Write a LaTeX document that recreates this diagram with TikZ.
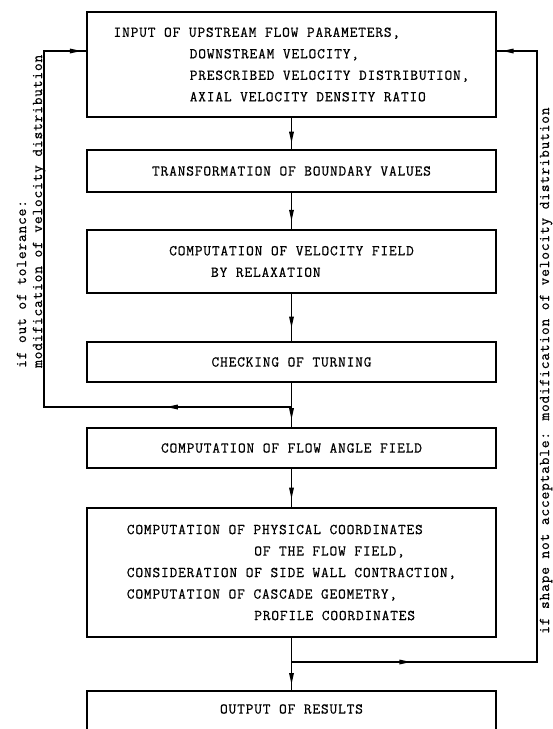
\documentclass[tikz,border=0pt]{standalone}
\usepackage{fontspec}
\newfontfamily\scan[LetterSpace=5.5,FakeBold=0.6]{Latin Modern Mono}
\usetikzlibrary{decorations.markings}

\tikzset{
  box/.style={draw, line width=1.5pt, minimum width=409pt, align=left, inner sep=0pt,
    font=\scan\fontsize{15}{21.5}\selectfont},
  txt/.style={inner sep=0pt, font=\scan\fontsize{15}{21.5}\selectfont},
  wire/.style={line width=1.5pt},
  tipat/.style={postaction={decorate}, decoration={markings,
    mark=at position #1 with {\fill (-10pt,-2.5pt) -- (1pt,0pt) -- (-10pt,2.5pt) -- cycle;}}},
  side/.style={rotate=90, anchor=base west, inner sep=0pt,
    font=\scan\fontsize{15}{17}\selectfont},
}

\begin{document}
\begin{tikzpicture}[x=1pt,y=1pt]
\useasboundingbox (0,0) rectangle (553,-729);
\clip (0,0) rectangle (553,-729);

% process boxes
\node[box, minimum height=105pt] (b1) at (291.5,-64.5)
  {INPUT OF UPSTREAM FLOW PARAMETERS,\\
   \phantom{INPUTxOFx}DOWNSTREAM VELOCITY,\\
   \phantom{INPUTxOFx}PRESCRIBED VELOCITY DISTRIBUTION,\\
   \phantom{INPUTxOFx}AXIAL VELOCITY DENSITY RATIO};
\node[box, minimum height=42pt] (b2) at (291.5,-171)
  {TRANSFORMATION OF BOUNDARY VALUES};
\node[box, minimum height=63pt] (b3) at (291.5,-261.5)
  {COMPUTATION OF VELOCITY FIELD\\
   \phantom{COMPU}BY RELAXATION};
\node[box, minimum height=40pt] (b4) at (291.5,-362)
  {CHECKING OF TURNING};
\node[box, minimum height=40pt] (b5) at (291.5,-448)
  {COMPUTATION OF FLOW ANGLE FIELD};
\node[box, minimum height=129pt] (b6) at (291.5,-572.5)
  {COMPUTATION OF PHYSICAL COORDINATES\\
   \phantom{COMPUTATIONxOFx}OF THE FLOW FIELD,\\
   CONSIDERATION OF SIDE WALL CONTRACTION,\\
   COMPUTATION OF CASCADE GEOMETRY,\\
   \phantom{COMPUTATIONxOFx}PROFILE COORDINATES};
\node[box, minimum height=60pt, anchor=north] (b7) at (291.5,-690) {};
\node[txt] (b7t) at (291.5,-709) {OUTPUT OF RESULTS};

% branch points and loop corners
\coordinate (j1) at (291.5,-407);
\coordinate (j2) at (291.5,-662);
\coordinate (la) at (44,-407);
\coordinate (lb) at (44,-51);
\coordinate (ra) at (537,-662);
\coordinate (rb) at (537,-51);

% main flow
\draw[wire, tipat=0.76] (b1.south) -- (b2.north);
\draw[wire, tipat=0.74] (b2.south) -- (b3.north);
\draw[wire, tipat=0.69] (b3.south) -- (b4.north);
\draw[wire] (b4.south) -- (j1);
\draw[wire, tipat=0.55] (j1) -- (b5.north);
\draw[wire, tipat=0.75] (b5.south) -- (b6.north);
\draw[wire] (b6.south) -- (j2);
\draw[wire, tipat=0.75] (j2) -- (b7.north);

% tolerance loop
\draw[wire] (j1) -- (la) -- (lb) -- (lb -| b1.west);
\draw[wire, tipat=0.5] (j1) -- (la);
\draw[wire, tipat=0.85] (lb) -- (lb -| b1.west);

% shape loop
\draw[wire] (j2) -- (ra) -- (rb) -- (rb -| b1.east);
\draw[wire, tipat=0.48] (j2) -- (ra);
\draw[wire, tipat=0.83] (rb) -- (rb -| b1.east);

% loop labels
\node[side] (lt1) at (26,-368) {if out of tolerance:};
\node[side] (lt2) at (42,-368) {modification of velocity distribution};
\node[side] (rt) at (549,-634) {if shape not acceptable: modification of velocity distribution};
\end{tikzpicture}
\end{document}
